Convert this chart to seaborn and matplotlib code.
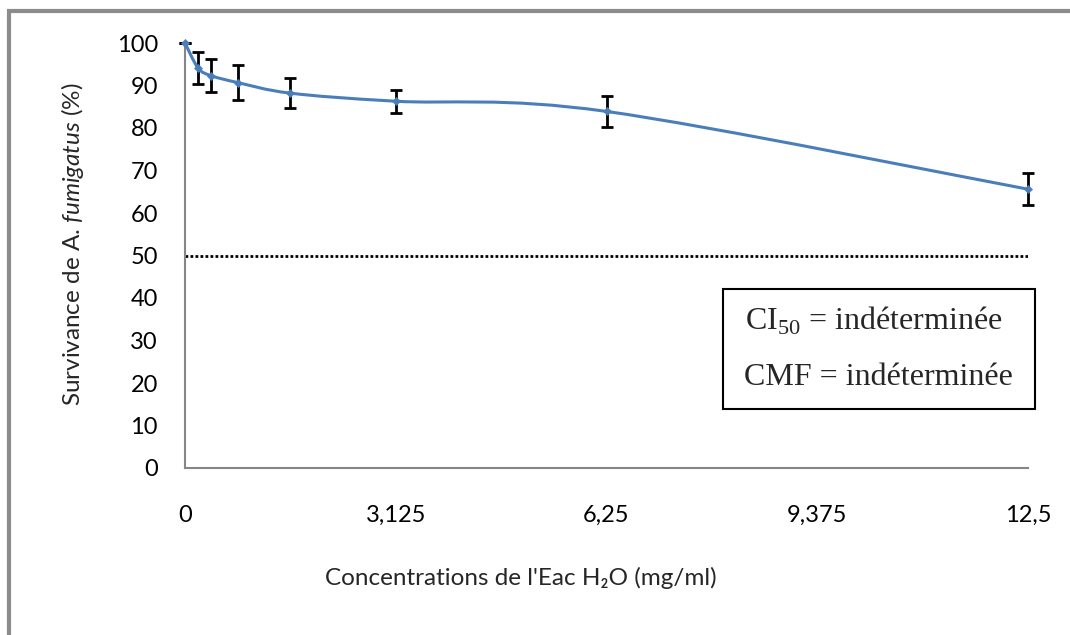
import numpy as np
import matplotlib
matplotlib.use("Agg")
import matplotlib.pyplot as plt
from matplotlib.path import Path
from matplotlib.patches import PathPatch, Rectangle
import seaborn as sns

# data
conc = [0, 0.195, 0.39, 0.78, 1.5625, 3.125, 6.25, 12.5]
survie = [100, 94.1, 92.3, 90.7, 88.2, 86.3, 83.9, 65.6]
err = [0, 3.7, 3.9, 4.1, 3.5, 2.7, 3.7, 3.8]
xticks = [0, 3.125, 6.25, 9.375, 12.5]
xtick_labels = ["0", "3,125", "6,25", "9,375", "12,5"]
yticks = list(range(0, 101, 10))
seuil = 50

sns.set_theme(style="white")
plt.rcParams["font.family"] = ["Lato", "DejaVu Sans"]
plt.rcParams["mathtext.fontset"] = "custom"
plt.rcParams["mathtext.rm"] = "Liberation Serif"
plt.rcParams["mathtext.it"] = "Lato:italic"

W, H = 1070, 635
fig = plt.figure(figsize=(W / 100, H / 100), dpi=100)
ax = fig.add_axes([185 / W, 1 - 468 / H, (1028 - 185) / W, (468 - 43) / H])

blue = "#4a7ebb"
grey = "#868686"


# Excel-like smoothed line: cubic bezier through the points
def smooth_path(x, y, t=1 / 6):
    x = np.asarray(x, float)
    y = np.asarray(y, float)
    verts = [(x[0], y[0])]
    codes = [Path.MOVETO]
    n = len(x)
    for i in range(n - 1):
        x0, y0 = (x[i - 1], y[i - 1]) if i > 0 else (x[i], y[i])
        x3, y3 = (x[i + 2], y[i + 2]) if i + 2 < n else (x[i + 1], y[i + 1])
        c1 = (x[i] + (x[i + 1] - x0) * t, y[i] + (y[i + 1] - y0) * t)
        c2 = (x[i + 1] - (x3 - x[i]) * t, y[i + 1] - (y3 - y[i]) * t)
        verts += [c1, c2, (x[i + 1], y[i + 1])]
        codes += [Path.CURVE4] * 3
    return Path(verts, codes)


ax.add_patch(PathPatch(smooth_path(conc, survie), facecolor="none", edgecolor=blue,
                       lw=2.2, clip_on=False, zorder=3))
sns.scatterplot(x=conc, y=survie, ax=ax, color=blue, marker="D", s=18,
                edgecolor=blue, zorder=4, clip_on=False)
ax.errorbar(conc, survie, yerr=err, fmt="none", ecolor="black", elinewidth=2,
            capsize=4.5, capthick=2, zorder=2, clip_on=False)

ax.axhline(seuil, color="black", ls=(0, (1, 0.8)), lw=2, zorder=1)

ax.set_xlim(0, 12.5)
ax.set_ylim(0, 100)
ax.set_xticks(xticks)
ax.set_xticklabels(xtick_labels)
ax.set_yticks(yticks)
ax.tick_params(axis="both", labelsize=17, colors=grey, length=6.5, width=1.5,
               labelcolor="black", direction="out")
ax.tick_params(axis="x", pad=20)
ax.tick_params(axis="y", pad=13)
for s in ["top", "right"]:
    ax.spines[s].set_visible(False)
for s in ["left", "bottom"]:
    ax.spines[s].set_color(grey)
    ax.spines[s].set_linewidth(1.5)

ax.set_xlabel("Concentrations de l'Eac H₂O (mg/ml)", fontsize=17.5)
ax.xaxis.set_label_coords((521 - 185) / 843, (468 - 567) / 425)
ax.set_ylabel(r"Survivance de A. $\mathit{fumigatus}$ (%)", fontsize=17.5)
ax.yaxis.set_label_coords((86 - 185) / 843, (468 - 244) / 425)

# annotation box
box = Rectangle((723 / W, 1 - 409 / H), (1035 - 723) / W, (409 - 289) / H,
                transform=fig.transFigure, facecolor="white", edgecolor="black",
                lw=1.5, zorder=5)
fig.patches.append(box)
fig.text(745 / W, 1 - 330 / H, r"CI$_{\mathrm{50}}$ = indéterminée",
         family="Liberation Serif", fontsize=23, va="baseline", zorder=6)
fig.text(744 / W, 1 - 385 / H, "CMF = indéterminée",
         family="Liberation Serif", fontsize=23, va="baseline", zorder=6)

# outer chart border
fig.patches.append(Rectangle((9 / W, -0.01), 1.1, 1 - 11 / H + 0.01,
                             transform=fig.transFigure, facecolor="none",
                             edgecolor="#8c8c8c", lw=3))

fig.savefig("out.png", dpi=100)
